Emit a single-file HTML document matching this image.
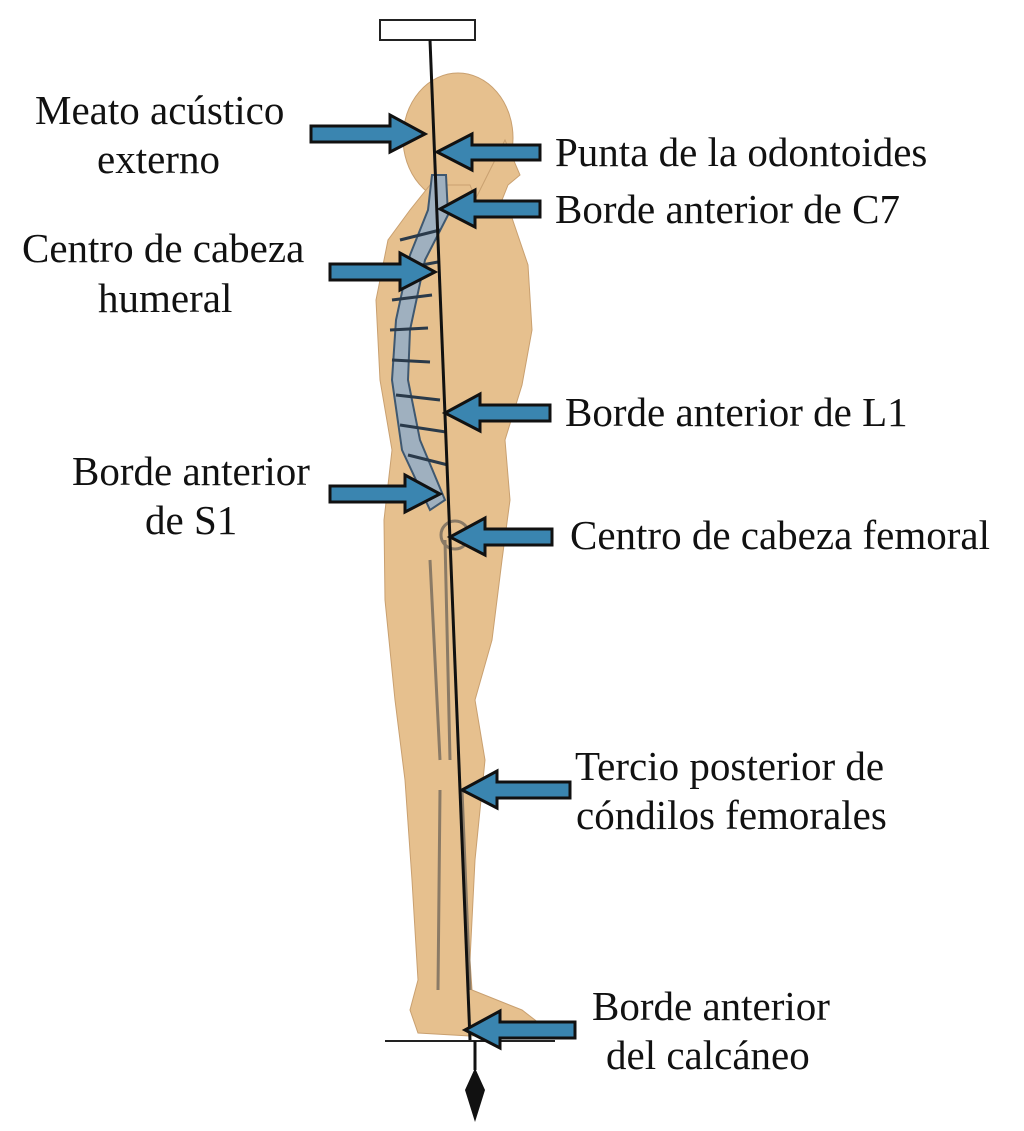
<!DOCTYPE html>
<html><head><meta charset="utf-8"><style>
html,body{margin:0;padding:0;background:#fff;}
svg{display:block;}
text{font-family:"Liberation Serif",serif;font-size:41px;fill:#111;}
</style></head><body>
<svg width="1024" height="1131" viewBox="0 0 1024 1131">
<g fill="#e6c08e" stroke="#c9a070" stroke-width="1">
<ellipse cx="458" cy="138" rx="55" ry="65"/>
<path d="M505 140 L520 175 L508 185 L500 205 L470 210 Z"/>
<path d="M430 185 L470 185 L478 205 L512 218 L528 265 L532 330 L522 385 L505 440 L510 500 L502 560 L492 640 L475 700 L485 760 L475 860 L470 960 L472 990 L522 1010 L548 1030 L470 1036 L418 1033 L410 1010 L418 980 L412 880 L405 780 L395 700 L385 600 L384 520 L392 450 L380 380 L376 300 L388 240 L410 210 Z"/>
</g>
<g fill="#9fb0bf" stroke="#3f5870" stroke-width="2">
<path d="M432 175 L446 175 L448 215 L425 260 L410 330 L408 380 L420 440 L445 500 L430 510 L402 450 L392 380 L396 320 L410 255 L428 210 Z"/>
</g>
<g stroke="#2a3a4a" stroke-width="3">
<line x1="400" y1="240" x2="440" y2="230"/><line x1="395" y1="270" x2="438" y2="262"/>
<line x1="392" y1="300" x2="432" y2="295"/><line x1="390" y1="330" x2="428" y2="328"/>
<line x1="392" y1="360" x2="430" y2="362"/><line x1="396" y1="395" x2="440" y2="400"/>
<line x1="400" y1="425" x2="446" y2="432"/><line x1="408" y1="455" x2="448" y2="465"/>
</g>
<g fill="none" stroke="#8a7a66" stroke-width="3">
<path d="M445 540 L450 760 M430 560 L440 760 M440 790 L438 990 M462 790 L470 990"/>
<circle cx="455" cy="535" r="14"/>
</g>
<rect x="380" y="20" width="95" height="20" fill="#fff" stroke="#222" stroke-width="2"/>
<line x1="430" y1="40" x2="470" y2="1040" stroke="#111" stroke-width="3"/>
<line x1="385" y1="1041" x2="555" y2="1041" stroke="#222" stroke-width="2"/>
<line x1="475" y1="1041" x2="475" y2="1070" stroke="#111" stroke-width="3"/>
<path d="M475 1068 L485 1090 L475 1122 L465 1090 Z" fill="#111"/>
<g fill="#3a85b0" stroke="#111" stroke-width="3" stroke-linejoin="miter">
<path d="M311 126 L390 126 L390 115 L425 134 L390 152 L390 142 L311 142 Z"/>
<path d="M330 264 L400 264 L400 253 L435 272 L400 290 L400 280 L330 280 Z"/>
<path d="M330 486 L405 486 L405 475 L440 494 L405 512 L405 502 L330 502 Z"/>
<path d="M540 145 L472 145 L472 134 L437 152 L472 170 L472 160 L540 160 Z"/>
<path d="M540 201 L475 201 L475 190 L440 209 L475 227 L475 217 L540 217 Z"/>
<path d="M550 405 L480 405 L480 394 L445 413 L480 431 L480 421 L550 421 Z"/>
<path d="M552 529 L485 529 L485 518 L450 537 L485 555 L485 545 L552 545 Z"/>
<path d="M570 782 L497 782 L497 771 L462 790 L497 808 L497 798 L570 798 Z"/>
<path d="M575 1022 L500 1022 L500 1011 L465 1030 L500 1048 L500 1038 L575 1038 Z"/>
</g>
<text x="35" y="124">Meato acústico</text>
<text x="97" y="173">externo</text>
<text x="22" y="262">Centro de cabeza</text>
<text x="98" y="312">humeral</text>
<text x="72" y="485">Borde anterior</text>
<text x="145" y="534">de S1</text>
<text x="555" y="166">Punta de la odontoides</text>
<text x="555" y="223">Borde anterior de C7</text>
<text x="565" y="426">Borde anterior de L1</text>
<text x="570" y="549">Centro de cabeza femoral</text>
<text x="575" y="780">Tercio posterior de</text>
<text x="576" y="829">cóndilos femorales</text>
<text x="592" y="1020">Borde anterior</text>
<text x="606" y="1069">del calcáneo</text>
</svg>
</body></html>
